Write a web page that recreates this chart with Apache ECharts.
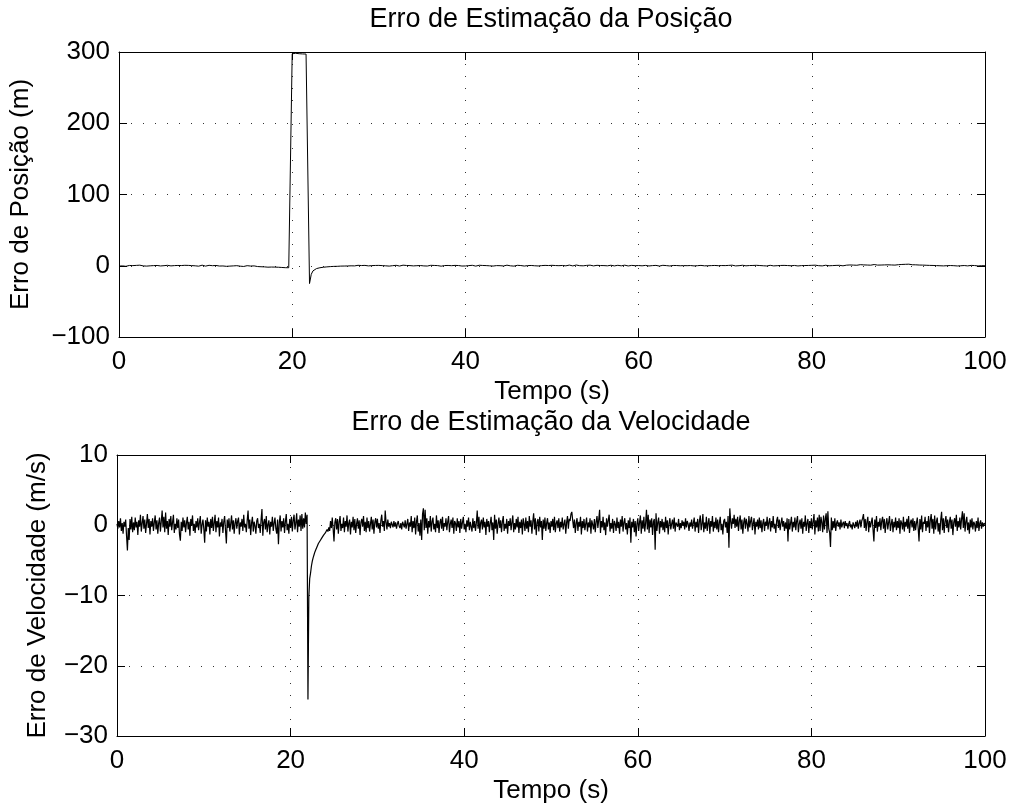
<!DOCTYPE html>
<html>
<head>
<meta charset="utf-8">
<title>Erro de Estimação</title>
<script src="https://cdn.jsdelivr.net/npm/echarts@6/dist/echarts.min.js"></script>
<style>
  html, body { margin: 0; padding: 0; background: #fff; }
  #chart { width: 1010px; height: 807px; }
</style>
</head>
<body>
<div id="chart"></div>
<script>
// eixo do tempo (s)
const passoPos = 0.2
const passoVel = 0.1
const ticksX = [0, 20, 40, 60, 80, 100]
const ticksPos = [-100, 0, 100, 200, 300]
const ticksVel = [-30, -20, -10, 0, 10]

// erro de posição (m), uma amostra a cada 0.2 s
const erroPos = [
  -0.5,0.3,-0.2,0.6,-0.8,0.1,0.4,-0.6,0.2,-0.3,
  0.5,-0.4,0.8,0.1,-0.2,0.6,-0.5,0.3,-0.1,0.7,
  0.2,-0.6,0.4,0.9,-0.3,0.5,0.1,-0.4,0.6,0.3,
  -0.2,0.8,0.2,-0.5,0.4,1.0,0.3,-0.3,0.6,0.1,
  0.5,-0.4,0.2,0.7,-0.1,0.4,-0.6,0.3,0.8,0.0,
  -0.5,0.3,0.6,-0.2,0.1,-0.7,0.4,0.2,-0.4,0.5,
  -0.3,0.1,-0.8,0.2,-0.5,0.3,-0.2,-0.9,0.1,-0.4,
  -0.6,0.2,-1.0,-0.3,0.1,-0.8,-0.4,-1.2,-0.2,-0.7,
  -1.1,-0.5,-1.4,-0.8,-1.6,-1.0,-2.0,-1.3,-1.8,-2.4,
  -1.9,-2.6,-2.1,-2.9,-2.4,-3.1,-2.7,-3.3,-2.8,-3.0,
  297.5,298.8,298.2,298.9,297.6,297.9,297.3,296.8,297.1,296.9,
  -25.0,-12.0,-7.2,-5.1,-4.0,-3.2,-2.8,-2.5,-2.1,-1.9,
  -1.6,-1.5,-1.2,-1.0,-0.9,-0.6,-0.8,-0.4,-0.5,-0.2,
  -0.4,0.1,-0.3,0.3,-0.1,0.5,-0.2,0.2,0.6,-0.1,
  0.3,-0.4,0.5,0.1,-0.2,0.6,0.2,-0.3,0.4,0.0,
  0.5,-0.3,0.2,0.7,-0.1,0.3,-0.5,0.4,0.1,-0.2,
  0.6,0.2,-0.4,0.3,0.8,-0.1,0.4,-0.3,0.2,0.5,
  -0.2,0.4,0.1,-0.5,0.3,0.7,-0.2,0.2,-0.4,0.3,
  0.6,-0.1,0.4,-0.3,0.2,0.5,-0.6,0.1,0.3,-0.2,
  0.4,0.8,0.1,-0.3,0.5,-0.1,0.3,0.6,-0.4,0.2,
  -0.3,0.5,0.2,-0.2,0.6,0.1,-0.5,0.3,0.7,0.0,
  0.4,-0.3,0.2,0.6,-0.1,0.3,-0.4,0.5,0.2,-0.2,
  0.1,0.5,-0.3,0.4,0.8,0.2,-0.1,0.3,-0.5,0.2,
  0.6,-0.2,0.3,0.1,-0.4,0.5,0.2,-0.3,0.4,0.7,
  0.0,0.4,-0.3,0.6,0.2,-0.1,0.5,-0.4,0.3,0.1,
  0.6,-0.2,0.3,0.8,0.1,-0.3,0.4,0.2,-0.1,0.5,
  0.9,0.3,-0.2,0.6,1.0,0.4,0.1,0.7,-0.1,0.3,
  0.5,0.1,0.8,0.3,-0.2,0.4,0.6,0.0,0.3,-0.3,
  0.2,0.5,-0.1,0.4,0.7,0.1,-0.2,0.3,0.6,0.2,
  -0.1,0.4,0.8,0.3,-0.3,0.2,0.5,0.9,0.1,-0.2,
  0.3,0.6,-0.1,0.2,0.5,0.0,-0.3,0.4,0.2,-0.2,
  0.5,0.1,-0.4,0.3,0.6,-0.1,0.2,0.4,-0.3,0.1,
  0.4,-0.2,0.3,0.7,0.0,-0.4,0.2,0.5,0.1,-0.1,
  0.3,0.6,-0.2,0.4,0.1,-0.3,0.5,0.2,-0.1,0.4,
  0.0,0.5,0.2,-0.3,0.4,0.7,0.1,-0.2,0.3,0.6,
  0.2,-0.1,0.5,0.3,0.8,0.4,-0.2,0.6,0.1,0.3,
  0.7,0.2,-0.1,0.5,0.3,0.9,0.4,0.1,0.6,-0.2,
  0.3,0.5,0.0,0.4,-0.3,0.2,0.6,0.1,-0.2,0.4,
  0.1,-0.3,0.4,0.2,0.5,-0.1,0.3,0.6,0.0,-0.2,
  0.4,0.1,-0.3,0.5,0.2,0.7,0.3,-0.1,0.4,0.2,
  0.6,0.2,0.8,0.4,0.1,0.5,-0.2,0.3,0.7,0.2,
  0.0,0.4,0.2,-0.3,0.5,0.1,0.6,0.3,-0.1,0.4,
  0.8,0.5,1.1,0.6,0.9,1.3,0.7,1.0,1.5,0.9,
  1.2,1.6,1.0,1.4,0.8,1.3,1.7,1.1,0.9,1.4,
  1.0,1.5,1.2,0.8,1.3,1.6,1.1,1.4,0.9,1.2,
  1.5,1.1,1.8,1.3,2.0,1.6,2.2,1.7,1.4,1.9,
  1.3,1.6,1.0,1.4,0.9,1.2,0.7,1.0,0.5,0.8,
  0.4,0.7,0.2,0.5,0.0,0.3,-0.2,0.4,0.1,-0.1,
  0.3,-0.2,0.1,0.4,-0.3,0.2,0.0,-0.4,0.3,0.1,
  -0.2,0.2,0.5,-0.1,0.3,0.0,-0.3,0.2,0.1,-0.1,
  0.0
]

// erro de velocidade (m/s), uma amostra a cada 0.1 s
const erroVel = [
  0.2,-0.5,0.6,-0.3,1.0,-0.8,0.3,-1.2,0.5,-0.2,
  0.8,-1.5,-3.6,-0.4,-2.1,0.9,-0.6,1.2,-1.0,0.4,
  -0.7,1.1,-0.3,0.5,-1.4,0.7,-0.2,1.5,-0.9,0.3,
  1.3,-0.5,0.8,-1.1,0.2,1.6,-0.4,0.9,-1.3,0.6,
  -0.2,1.0,-0.8,0.4,1.4,-0.6,0.7,-1.2,0.3,1.1,
  -0.9,0.5,2.1,-0.3,1.2,-1.0,1.8,-0.5,0.6,-1.4,
  0.9,-0.2,1.3,-0.7,0.4,1.5,-1.1,0.2,-0.6,1.0,
  -0.4,0.8,-1.3,-2.2,0.5,-0.8,1.1,-0.3,0.7,-1.0,
  0.3,1.2,-0.6,0.5,-1.5,0.9,-0.1,1.4,-0.8,0.2,
  -1.1,0.6,-0.3,1.0,-0.7,0.4,1.3,-1.2,0.1,0.8,
  -0.5,-2.5,0.7,-0.9,1.1,-0.2,0.5,-1.3,0.9,-0.4,
  1.2,-0.8,0.3,1.5,-1.0,0.6,-0.3,1.1,-1.6,0.4,
  -0.2,0.9,-1.1,0.5,1.3,-0.7,-2.6,0.8,-0.4,1.0,
  -0.9,0.2,1.4,-0.6,0.7,-1.2,0.3,1.0,-0.5,0.6,
  1.1,-1.3,0.4,-0.2,0.9,-0.8,1.5,-0.3,0.2,-1.0,
  0.7,2.1,-0.5,0.8,-1.4,0.3,1.2,-0.9,0.5,-0.1,
  -1.2,0.6,1.0,-0.4,0.2,-1.1,0.8,2.3,-1.5,0.4,
  0.9,-0.6,1.3,-1.0,0.1,0.7,-1.3,0.5,-0.2,1.2,
  -0.8,0.3,1.1,-0.5,-1.2,0.8,-2.7,0.4,1.4,-0.9,
  0.6,-0.3,1.0,-1.1,0.5,1.6,-0.7,0.2,-1.2,0.9,
  -0.4,1.2,-0.9,0.7,1.5,-0.6,0.3,1.7,-1.0,0.8,
  -0.2,1.4,-0.8,1.6,-0.5,1.0,-0.3,1.8,0.2,1.5,
  -24.8,-10.2,-7.6,-6.8,-5.8,-5.1,-4.6,-4.2,-3.8,-3.5,
  -3.2,-3.0,-2.6,-2.8,-2.2,-2.1,-1.8,-1.9,-1.4,-1.6,
  -1.1,-1.2,-0.6,-0.9,-0.3,-0.8,0.6,-0.4,1.1,-0.5,
  -2.3,0.4,1.0,-0.6,0.9,-1.2,0.5,1.3,-0.8,0.2,
  -0.4,1.1,-1.0,0.6,-0.2,1.4,-0.9,0.3,0.8,-1.3,
  0.5,-0.3,1.2,-0.7,0.9,-1.1,0.2,1.0,-0.5,0.7,
  -1.4,0.4,0.9,-0.2,1.3,-0.8,0.5,-1.0,1.1,-0.4,
  0.6,-0.9,0.2,1.2,-0.6,0.8,-1.2,0.4,1.0,-0.3,
  0.9,-0.5,0.3,-1.1,0.7,1.5,-0.2,0.6,-0.8,2.1,
  0.4,-0.6,0.8,-0.2,0.3,-0.4,0.5,0.1,-0.3,0.6,
  -0.2,0.4,-0.5,0.2,0.6,-0.1,-0.4,0.3,-0.6,0.5,
  0.1,-0.3,0.7,-0.5,0.2,0.9,-0.8,0.4,-0.2,1.3,
  -1.0,0.6,-0.4,1.1,-1.3,0.5,1.4,-0.9,0.3,-1.5,
  0.8,-2.1,1.6,2.4,-0.7,2.2,-0.4,1.0,-1.2,0.6,
  -0.3,1.3,-0.9,0.5,1.1,-0.6,0.2,-1.0,1.4,-0.4,
  0.7,-1.1,0.4,0.9,-0.5,1.2,-0.8,0.3,-0.2,1.0,
  -0.7,0.5,1.3,-1.0,0.2,0.8,-0.4,1.1,-1.2,0.6,
  0.3,-0.8,1.0,-0.3,0.6,-1.1,0.9,-0.5,0.4,1.2,
  -0.6,0.2,-1.0,0.7,-0.2,1.1,-0.7,0.5,0.3,-0.9,
  1.0,-0.4,0.6,-0.8,0.3,2.1,-0.5,1.2,-1.1,0.4,
  0.8,-0.6,1.1,-0.3,0.5,-1.4,0.9,-0.2,0.6,-1.0,
  0.3,1.2,-0.7,0.4,-2.1,1.5,-0.5,0.8,-1.2,0.2,
  1.1,-0.4,0.7,-1.0,0.5,1.3,-0.8,0.2,-0.5,0.9,
  -1.2,0.6,-0.1,1.0,-0.7,0.4,1.4,-1.0,0.3,-0.6,
  0.9,-0.3,1.2,-1.1,0.5,-0.4,0.8,-1.3,1.0,0.2,
  -0.8,1.1,-0.5,0.6,-1.0,1.3,-0.2,0.7,-1.2,0.5,
  1.7,-0.6,1.0,-1.4,0.4,0.9,-0.9,1.2,-0.3,0.6,
  -2.1,0.8,-0.5,1.1,-0.8,0.3,1.0,-0.6,0.4,-1.1,
  0.6,-0.2,0.9,-0.7,1.2,-1.0,0.3,0.7,-0.4,1.0,
  -0.9,0.5,-0.3,1.1,-0.6,0.2,0.8,-1.2,0.4,1.3,
  -0.5,0.9,0.6,1.6,1.9,0.7,-0.4,0.8,-1.1,0.3,
  1.0,-0.8,0.5,-0.2,1.2,-1.3,0.6,-0.4,0.9,-0.7,
  0.2,1.1,-0.9,0.4,-0.3,1.0,-1.2,0.7,0.1,-0.6,
  0.9,-1.0,0.5,1.3,-0.4,0.8,2.2,-1.1,0.6,-0.3,
  1.2,-0.7,0.4,-1.4,1.0,-0.2,0.7,1.5,-0.9,0.3,
  -0.5,0.9,-1.1,0.6,0.2,-0.8,1.1,-0.4,0.5,-1.2,
  0.8,-0.2,1.3,-0.9,0.4,1.0,-0.6,0.3,-1.3,0.7,
  -0.4,1.1,-2.5,0.5,-0.3,0.9,-1.0,0.6,-1.6,0.2,
  1.0,-0.8,0.4,1.4,-1.2,0.7,-0.5,1.2,-0.9,0.3,
  2.2,-0.6,1.5,-1.1,0.8,-0.3,1.0,-1.4,0.5,0.9,
  -3.5,1.7,-0.8,0.4,1.1,-1.2,0.6,-0.3,0.9,-0.7,
  0.5,-1.0,1.2,-0.4,0.7,-1.3,0.3,1.0,-0.6,0.2,
  0.8,-0.5,1.1,-0.9,0.4,0.6,-0.2,0.9,-0.7,0.3,
  -0.4,0.7,-0.1,0.5,-0.6,1.0,-0.3,0.6,0.2,-0.8,
  0.4,-0.2,0.8,-0.5,0.3,1.1,-0.9,0.5,-0.3,0.9,
  -1.1,0.6,1.4,-0.7,0.2,1.6,-1.0,0.4,-0.5,1.2,
  -0.8,0.3,1.0,-1.2,0.6,-0.2,1.3,-0.9,0.5,-0.4,
  1.1,-0.6,0.8,-1.0,0.4,1.2,-0.7,0.2,-1.3,0.6,
  0.9,-0.3,0.5,-1.1,1.3,-3.2,2.4,0.6,-0.5,1.0,
  0.2,1.5,-0.4,0.9,-0.2,1.2,-0.8,0.6,1.4,-0.6,
  0.8,-1.2,0.4,1.1,-0.5,0.9,0.2,-0.9,1.3,-0.3,
  0.6,1.2,-0.7,0.3,1.0,-1.3,0.5,-0.2,0.8,-0.6,
  1.1,-0.4,0.7,-1.0,0.3,0.9,-0.8,0.5,-0.1,1.2,
  -0.6,0.4,1.0,-0.9,0.6,-0.3,1.3,-0.5,0.2,-1.1,
  0.7,1.2,-0.4,0.8,-0.7,0.3,1.1,-0.2,0.6,-0.8,
  0.4,-0.5,1.0,-2.3,0.9,-0.6,0.3,1.2,-0.9,0.5,
  -0.3,1.1,-0.7,0.6,1.3,-1.0,0.2,0.8,-0.5,1.0,
  -1.2,0.5,-0.2,1.4,-0.8,0.3,0.9,-1.1,0.6,-0.4,
  1.0,-0.6,0.5,1.6,-1.3,0.7,-0.3,1.1,-0.9,1.5,
  -0.8,1.2,0.4,-1.0,1.4,-0.6,0.9,1.7,-1.1,2.0,
  -0.5,-1.0,-3.1,1.1,-0.7,0.6,-0.4,1.0,-0.8,0.3,
  0.7,-0.2,0.4,-0.6,0.8,-0.3,0.2,0.5,-0.4,0.6,
  -0.1,0.3,-0.5,0.2,0.6,-0.3,0.1,-0.6,0.4,0.2,
  -0.4,0.5,-0.2,0.7,-0.5,0.3,0.8,-0.3,0.6,1.0,
  1.6,-0.4,0.9,-0.8,0.5,1.2,-1.0,0.6,-0.3,0.4,
  1.1,-0.6,-2.3,0.8,-0.4,1.3,-0.9,0.5,-0.2,1.0,
  -0.7,0.6,1.2,-0.5,0.9,-1.1,0.3,1.0,-0.6,0.4,
  1.3,-0.8,0.2,0.9,-1.0,0.5,-0.3,1.1,-0.7,0.6,
  -0.4,1.0,-1.2,0.7,0.3,-0.6,1.2,-0.9,0.5,-0.2,
  0.9,-0.5,1.3,-1.1,0.4,0.8,-0.3,1.0,-0.8,0.6,
  -0.7,0.3,1.1,-0.4,-2.3,0.9,-0.6,1.4,-1.0,0.5,
  0.2,1.2,-0.8,0.6,-0.3,1.3,-1.1,0.7,1.6,-0.5,
  0.9,-1.2,1.4,-0.6,0.5,1.1,-0.9,0.3,-1.3,0.8,
  1.9,-0.7,1.0,-1.1,0.6,1.3,-0.4,0.8,-1.0,0.5,
  1.2,-0.5,0.8,-1.4,0.4,1.0,-0.2,1.5,-0.8,0.6,
  -0.3,1.1,-0.6,0.9,2.0,-0.4,1.7,-0.9,0.5,1.2,
  -0.7,0.4,-1.2,0.8,-0.3,1.0,-0.6,0.5,0.2,-0.9,
  0.6,-0.4,1.1,-0.8,0.3,0.7,-0.5,0.4,-0.2,0.3,
  0.1
]

const fonte = 'Liberation Sans'
const tamFonte = 26
const tamTitulo = 27

// amostras com o tempo de cada uma
const dadosPos = erroPos.map((v, i) => [+(i * passoPos).toFixed(2), v])
const dadosVel = erroVel.map((v, i) => [+(i * passoVel).toFixed(2), v])

const menos = (v) => String(v).replace('-', '\u2212')

const pontilhado = {
  show: true,
  lineStyle: { color: '#000', width: 1, type: [1, 11], opacity: 0.8 },
}

function eixoX(grid, nome, gap) {
  return [
    {
      type: 'value', gridIndex: grid, position: 'bottom',
      min: 0, max: 100, interval: 20,
      name: nome, nameLocation: 'middle', nameGap: gap,
      nameTextStyle: { fontFamily: fonte, fontSize: tamFonte, color: '#000' },
      axisLine: { onZero: false, lineStyle: { color: '#000', width: 1 } },
      axisTick: { inside: true, length: 8, lineStyle: { color: '#000' } },
      axisLabel: { margin: 12, fontFamily: fonte, fontSize: tamFonte, color: '#000' },
      splitLine: pontilhado,
    },
    {
      // espelho em cima (caixa)
      type: 'value', gridIndex: grid, position: 'top',
      min: 0, max: 100, interval: 20,
      axisLine: { onZero: false, lineStyle: { color: '#000', width: 1 } },
      axisTick: { inside: true, length: 8, lineStyle: { color: '#000' } },
      axisLabel: { show: false },
      splitLine: { show: false },
    },
  ]
}

function eixoY(grid, ticks, nome, gap) {
  const min = ticks[0], max = ticks[ticks.length - 1]
  const passo = ticks[1] - ticks[0]
  return [
    {
      type: 'value', gridIndex: grid, position: 'left',
      min: min, max: max, interval: passo,
      name: nome, nameLocation: 'middle', nameGap: gap,
      nameTextStyle: { fontFamily: fonte, fontSize: tamFonte, color: '#000' },
      axisLine: { show: true, onZero: false, lineStyle: { color: '#000', width: 1 } },
      axisTick: { show: true, inside: true, length: 8, lineStyle: { color: '#000' } },
      axisLabel: { margin: 9, fontFamily: fonte, fontSize: tamFonte, color: '#000', formatter: menos },
      splitLine: pontilhado,
    },
    {
      type: 'value', gridIndex: grid, position: 'right',
      min: min, max: max, interval: passo,
      axisLine: { show: true, onZero: false, lineStyle: { color: '#000', width: 1 } },
      axisTick: { show: true, inside: true, length: 8, lineStyle: { color: '#000' } },
      axisLabel: { show: false },
      splitLine: { show: false },
    },
  ]
}

const option = {
  animation: false,
  backgroundColor: '#fff',
  title: [
    {
      text: 'Erro de Estimação da Posição',
      left: 551, top: 6, textAlign: 'center', padding: 0,
      textStyle: { fontFamily: fonte, fontSize: tamTitulo, fontWeight: 'normal', color: '#000' },
    },
    {
      text: 'Erro de Estimação da Velocidade',
      left: 551, top: 409, textAlign: 'center', padding: 0,
      textStyle: { fontFamily: fonte, fontSize: tamTitulo, fontWeight: 'normal', color: '#000' },
    },
  ],
  grid: [
    { left: 117, top: 52, width: 868, height: 285 },
    { left: 117, top: 455, width: 868, height: 281 },
  ],
  xAxis: [...eixoX(0, 'Tempo (s)', 42), ...eixoX(1, 'Tempo (s)', 42)],
  yAxis: [
    ...eixoY(0, ticksPos, 'Erro de Posição (m)', 85),
    ...eixoY(1, ticksVel, 'Erro de Velocidade (m/s)', 66),
  ],
  series: [
    {
      type: 'line', xAxisIndex: 0, yAxisIndex: 0,
      data: dadosPos, showSymbol: false, clip: true,
      lineStyle: { color: '#000', width: 1 },
    },
    {
      type: 'line', xAxisIndex: 2, yAxisIndex: 2,
      data: dadosVel, showSymbol: false, clip: true,
      lineStyle: { color: '#000', width: 1.2 },
    },
  ],
}

const myChart = echarts.init(document.getElementById('chart'))
myChart.setOption(option)
</script>
</body>
</html>
